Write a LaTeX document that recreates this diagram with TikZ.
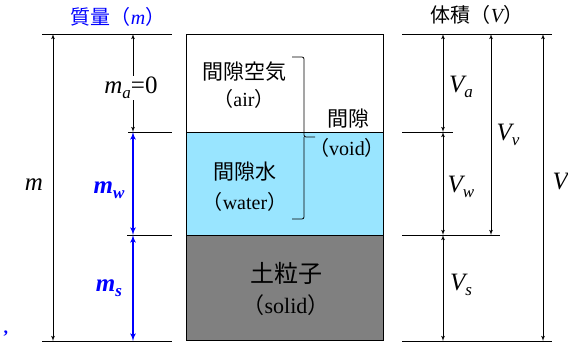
\documentclass[tikz,border=0pt]{standalone}
\usepackage{xcolor}
\usepackage{fontspec}
\setmainfont{Liberation Serif}
\newfontfamily\jpfont{Noto Sans CJK JP}
\usepackage{tikz}
\usetikzlibrary{arrows}
\definecolor{waterblue}{RGB}{153,229,255}
\definecolor{soilgray}{RGB}{128,128,128}
\definecolor{massblue}{RGB}{0,0,255}
\newcommand{\inparen}[1]{{\jpfont （}#1{\jpfont ）}}
\newcommand{\lowsub}[1]{\raisebox{-0.45ex}{\fontsize{17}{17}\selectfont #1}}
\tikzstyle{levelline} = [draw, line width=1pt]
\tikzstyle{dimarrow} = [draw, latex'-latex', line width=0.8pt]
\tikzstyle{massarrow} = [draw, latex'-latex', line width=1.6pt, massblue]
\tikzstyle{jp} = [font=\jpfont\fontsize{21}{23}\selectfont]
\tikzstyle{en} = [font=\fontsize{20}{22}\selectfont]
\tikzstyle{sym} = [font=\fontsize{25}{27}\selectfont\itshape]

\begin{document}
\begin{tikzpicture}[x=1pt, y=-1pt]
\useasboundingbox (0,0) rectangle (568,343);
    % 土の三相
    \draw [line width=0.8pt] (186,34) rectangle (383,132);
    \draw [line width=0.8pt, fill=waterblue] (186,132) rectangle (383,235);
    \draw [line width=0.8pt, fill=soilgray] (186,235) rectangle (383,340);
    \node [jp] (air) at (244,72) {間隙空気};
    \node [en] (airen) at (244,99) {\inparen{air}};
    \node [jp] (water) at (245,172) {間隙水};
    \node [en] (wateren) at (245,202) {\inparen{water}};
    \node [jp, font=\jpfont\fontsize{24}{26}\selectfont] (solid) at (286,273) {土粒子};
    \node [en, font=\fontsize{22}{24}\selectfont] (soliden) at (286,305) {\inparen{solid}};
    % 間隙の括弧
    \draw [line width=0.8pt, rounded corners=2pt] (292,57) -- (304,57) -- (304,137)
        -- (315,137);
    \draw [line width=0.8pt, rounded corners=2pt] (304,137) -- (304,219) -- (292,219);
    \node [jp] (void) at (348,119) {間隙};
    \node [en] (voiden) at (347,148) {\inparen{void}};

    % 質量
    \node [jp, massblue, font=\jpfont\fontsize{20}{22}\selectfont] (masstitle) at (118,17)
        {質量\inparen{\rmfamily\itshape m}};
    \path [levelline] (42,34) -- (172,34);
    \path [levelline] (128,132) -- (172,132);
    \path [levelline] (127,235) -- (172,235);
    \path [levelline] (42,341) -- (172,341);
    \coordinate (mT) at (53,34);
    \coordinate (mB) at (53,341);
    \coordinate (aT) at (133,34);
    \coordinate (aB) at (133,132);
    \coordinate (wB) at (133,235);
    \coordinate (sB) at (133,341);
    \path [dimarrow] (mT) -- (mB);
    \path [dimarrow] (aT) -- (aB);
    \path [massarrow] (aB) -- (wB);
    \path [massarrow] (wB) -- (sB);
    \node [sym] (m) at (34,185) {m};
    \node [sym, fill=white, inner sep=1pt] (ma) at (131,88) {m\lowsub{a}\upshape=0};
    \node [sym, massblue, font=\fontsize{25}{27}\selectfont\bfseries\itshape] (mw) at (109,190) {m\lowsub{\bfseries w}};
    \node [sym, massblue, font=\fontsize{25}{27}\selectfont\bfseries\itshape] (ms) at (109,288) {m\lowsub{\bfseries s}};
    \node [en, massblue, font=\fontsize{18}{20}\selectfont\bfseries] (comma) at (6,334) {,};

    % 体積
    \node [jp, font=\jpfont\fontsize{20}{22}\selectfont] (voltitle) at (477,15)
        {体積\inparen{\rmfamily\itshape V}};
    \path [levelline] (402,34) -- (552,34);
    \path [levelline] (402,132) -- (453,132);
    \path [levelline] (402,235) -- (500,235);
    \path [levelline] (402,341) -- (552,341);
    \coordinate (VaT) at (443,34);
    \coordinate (VaB) at (443,132);
    \coordinate (VwB) at (443,235);
    \coordinate (VsB) at (443,341);
    \coordinate (VvT) at (491,34);
    \coordinate (VvB) at (491,235);
    \coordinate (VT) at (543,34);
    \coordinate (VB) at (543,341);
    \path [dimarrow] (VaT) -- (VaB);
    \path [dimarrow] (VaB) -- (VwB);
    \path [dimarrow] (VwB) -- (VsB);
    \path [dimarrow] (VvT) -- (VvB);
    \path [dimarrow] (VT) -- (VB);
    \node [sym] (Va) at (461,87) {V\lowsub{a}};
    \node [sym] (Vw) at (461,187) {V\lowsub{w}};
    \node [sym] (Vs) at (461,285) {V\lowsub{s}};
    \node [sym] (Vv) at (508,135) {V\lowsub{v}};
    \node [sym, anchor=east, inner sep=0pt] (V) at (568,182) {V};
\end{tikzpicture}
\end{document}
